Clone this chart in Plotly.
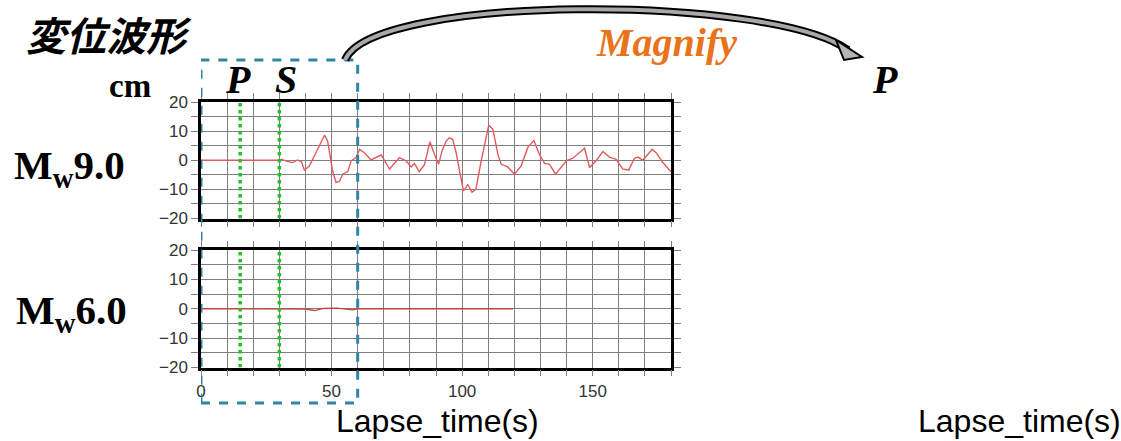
import plotly.graph_objects as go

W, H = 1121, 441

# ---------------- data ----------------
# Mw9.0 displacement waveform (cm) vs lapse time (s)
t9 = [0, 10, 20, 29.8, 31, 33, 35, 37, 38.5, 39.6, 41.5, 44, 47.3, 48.5, 50.4, 51.7, 53, 54.3,
      56.2, 57.5, 59.4, 60.7, 62.6, 65.1, 69, 72.2, 76, 78.5, 80.5, 81.7, 83.6, 85.6, 87.7,
      89.4, 91, 92.3, 93.9, 95.1, 96.4, 97.7, 98.9, 100.5, 102.2, 103.8, 105.3, 107.3, 110.2,
      111.8, 113.7, 115, 117.5, 120, 122.6, 125.2, 127.5, 129.6, 131.6, 133.5, 135.8, 138,
      139.9, 142.4, 144.3, 146.9, 148.8, 151.3, 153.9, 156.4, 159, 161.5, 163.8, 166, 167.3,
      169.2, 172.8, 174.3, 176.9, 179.4, 180]
d9 = [0, 0, 0, 0, 0.3, -0.4, -0.8, 0.1, -0.6, -3.4, -2.0, 2.6, 8.6, 6.6, -3.6, -7.6, -7.3, -4.8,
      -3.9, -0.2, 0.9, 3.75, 2.6, 0.1, 1.8, -3.0, 0.9, -0.2, -2.3, -1.1, -3.9, -1.4, 6.4,
      2.0, -1.4, 3.2, 6.6, 7.7, 7.2, 2.6, -3.6, -10.5, -8.4, -11.0, -9.9, -0.2, 12.0,
      10.6, 2.0, -1.4, -2.3, -4.8, -2.0, 4.5, 6.8, 2.0, -1.1, -1.4, -4.8, -2.3,
      -0.2, 0.7, 2.0, 4.1, -2.5, -0.2, 3.0, 1.1, 0.3, -3.0, -3.4, 0.7, 1.1,
      0.0, 3.75, 2.6, -0.8, -3.6, -4.0]

# Mw6.0 displacement waveform (cm)
t6 = [0, 10, 20, 30, 35, 40, 43.5, 47, 52, 56, 58, 60, 80, 100, 119.5]
d6 = [0, 0, 0, 0, 0.15, -0.1, -0.6, 0.1, 0.2, -0.2, -0.4, 0, 0, 0, 0]

p_arrival = 15   # s
s_arrival = 30   # s

x_range = [0, 180]
y_range = [-20, 20]
x_major = [0, 50, 100, 150]
x_minor_step = 10
y_major = [-20, -10, 0, 10, 20]
y_minor_step = 5
magnify_window = [0, 60]

# ---------------- helpers ----------------
def px(x):
    return x / W

def py(y):
    return 1 - y / H

fig = go.Figure()

# waveforms
fig.add_trace(go.Scatter(x=t9, y=d9, mode="lines", line=dict(color="#e25a5c", width=1.4),
                         xaxis="x", yaxis="y", showlegend=False, hoverinfo="skip"))
fig.add_trace(go.Scatter(x=t6, y=d6, mode="lines", line=dict(color="#c8403f", width=1.3),
                         xaxis="x2", yaxis="y2", showlegend=False, hoverinfo="skip"))

# P and S arrival markers
for ax, ay in (("x", "y"), ("x2", "y2")):
    for t in (p_arrival, s_arrival):
        fig.add_trace(go.Scatter(x=[t, t], y=y_range, mode="lines",
                                 line=dict(color="#22c02a", width=3.5, dash="dot"),
                                 xaxis=ax, yaxis=ay, showlegend=False, hoverinfo="skip"))

GRID = "#7f7f7f"
tickfont = dict(family="Liberation Sans, Arial", size=17, color="#333333")
axis_common = dict(
    range=x_range, tickmode="array", tickvals=x_major,
    showgrid=True, gridcolor=GRID, gridwidth=1.3,
    ticks="outside", ticklen=6, tickcolor=GRID, tickwidth=1.3,
    minor=dict(dtick=x_minor_step, tick0=0, showgrid=True, gridcolor=GRID, gridwidth=1.3,
               ticks="outside", ticklen=6, tickcolor=GRID, tickwidth=1.3),
    showline=True, linecolor="black", linewidth=2.5, mirror="allticks",
    zeroline=False, fixedrange=True, automargin=False, tickfont=tickfont,
)
yaxis_common = dict(
    range=y_range, tickmode="array", tickvals=y_major,
    showgrid=True, gridcolor=GRID, gridwidth=1.3,
    ticks="outside", ticklen=7, tickcolor=GRID, tickwidth=1.3,
    minor=dict(dtick=y_minor_step, tick0=0, showgrid=True, gridcolor=GRID, gridwidth=1.3,
               ticks="outside", ticklen=7, tickcolor=GRID, tickwidth=1.3),
    showline=True, linecolor="black", linewidth=2.5, mirror="allticks",
    zeroline=False, fixedrange=True, automargin=False, tickfont=tickfont,
)

xd = [px(201), px(671)]
fig.update_layout(
    width=W, height=H, autosize=False,
    margin=dict(l=0, r=0, t=0, b=0, pad=0),
    paper_bgcolor="white", plot_bgcolor="white",
    xaxis=dict(axis_common, domain=xd, anchor="y", showticklabels=False),
    yaxis=dict(yaxis_common, domain=[py(218.5), py(102)], anchor="x"),
    xaxis2=dict(axis_common, domain=xd, anchor="y2"),
    yaxis2=dict(yaxis_common, domain=[py(367.5), py(250)], anchor="x2"),
)

# dashed magnify window
fig.add_shape(type="rect", xref="x", yref="paper",
              x0=magnify_window[0], x1=magnify_window[1], y0=py(403), y1=py(60),
              line=dict(color="#2f86a2", width=3, dash="dash"), layer="above")

# curved arrow (gray with black outline)
def P(x, y):
    return f"{px(x):.5f},{py(y):.5f}"

curve = f"M {P(345,60)} C {P(372,-6)} {P(770,-6)} {P(848,50)}"
fig.add_shape(type="path", xref="paper", yref="paper", path=curve,
              line=dict(color="black", width=8), layer="above")
fig.add_shape(type="path", xref="paper", yref="paper", path=curve,
              line=dict(color="#a8a8a8", width=4), layer="above")
head = f"M {P(836,40)} L {P(862,57)} L {P(844,60)} Z"
fig.add_shape(type="path", xref="paper", yref="paper", path=head,
              fillcolor="#b5b5b5", line=dict(color="black", width=2), layer="above")

ann = []
def text(x, y, s, size, family, color="black", bold=True, italic=False, xanchor="center"):
    ann.append(dict(x=px(x), y=py(y), xref="paper", yref="paper", text=s, showarrow=False,
                    xanchor=xanchor, yanchor="middle",
                    font=dict(size=size, family=family, color=color,
                              weight="bold" if bold else "normal",
                              style="italic" if italic else "normal")))

serif = "Liberation Serif, Times New Roman, serif"
text(109, 34, "変位波形", 40, "Noto Sans CJK JP", italic=True)
text(130, 86, "cm", 33, serif)
text(238, 79, "P", 40, serif, italic=True)
text(286, 79, "S", 40, serif, italic=True)
text(885, 79, "P", 40, serif, italic=True)
text(666, 42, "Magnify", 40, serif, color="#e8731a", italic=True)
text(12, 168, "M<sub>w</sub>9.0", 41, serif, xanchor="left")
text(14, 313, "M<sub>w</sub>6.0", 41, serif, xanchor="left")
lapse_font = "Liberation Sans, Arial"
text(437, 421, "Lapse_time(s)", 32, lapse_font, bold=False)
text(916, 421, "Lapse_time(s)", 32, lapse_font, bold=False, xanchor="left")
fig.update_layout(annotations=ann)

fig.write_html("out.html", config={"displayModeBar": False},
               post_script="document.body.style.margin='0';document.body.style.overflow='hidden';")
